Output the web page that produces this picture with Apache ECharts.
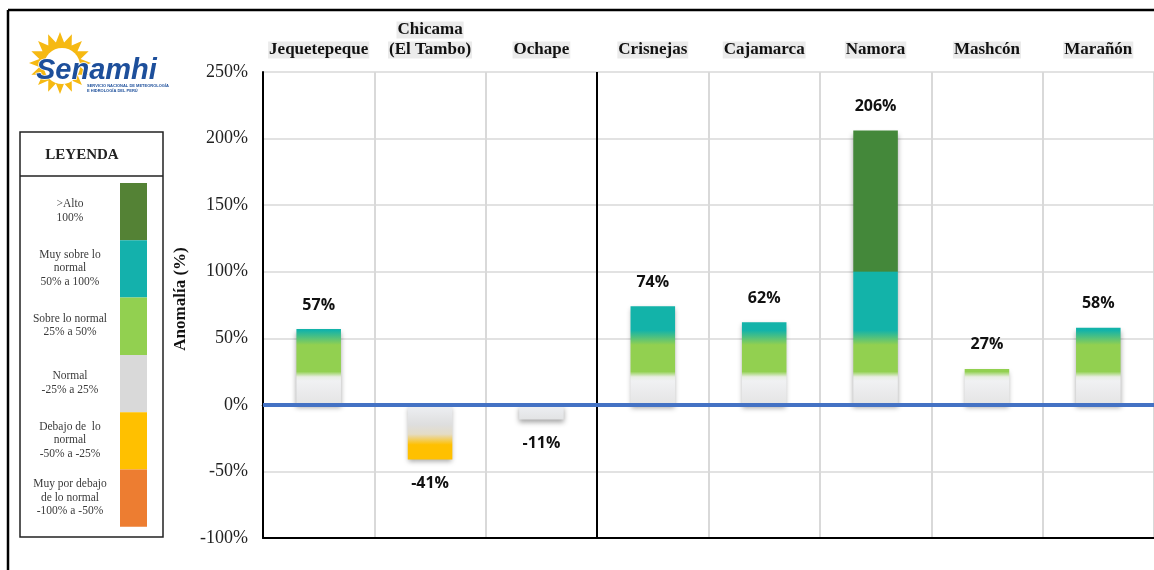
<!DOCTYPE html>
<html>
<head>
<meta charset="utf-8">
<script src="https://cdn.jsdelivr.net/npm/echarts@6/dist/echarts.min.js"></script>
<style>
  html, body { margin: 0; padding: 0; background: #fff; }
  #main { width: 1154px; height: 570px; }
</style>
</head>
<body>
<div id="main"></div>
<script>
// cuencas y anomalías (%)
var cuencas = ['Jequetepeque', 'Chicama\n(El Tambo)', 'Ochape', 'Crisnejas', 'Cajamarca', 'Namora', 'Mashcón', 'Marañón'];
var anomalias = [57, -41, -11, 74, 62, 206, 27, 58];

// leyenda
var leyendaTextos = ['>Alto\n100%', 'Muy sobre lo\nnormal\n50% a 100%', 'Sobre lo normal\n25% a 50%', 'Normal\n-25% a 25%', 'Debajo de  lo\nnormal\n-50% a -25%', 'Muy por debajo\nde lo normal\n-100% a -50%'];
var leyendaColores = ['#548235', '#14b1ac', '#92d050', '#d9d9d9', '#ffc000', '#ed7d31'];

// degradado de cada barra según el umbral alcanzado
var stopsPos = [[0, '#e4e4e4'], [18, '#f0f1f3'], [21, '#e9eee2'], [25, '#92d050'], [45, '#92d050'], [56, '#13b3a9'], [99.5, '#13b3a9'], [100.5, '#44883a'], [1000, '#44883a']];
var stopsNeg = [[0, '#eef0f4'], [15, '#dedede'], [22, '#e4dcc6'], [30, '#ffc000'], [50, '#ffc000'], [52, '#ed7d31'], [1000, '#ed7d31']];

function hex2rgb(h) {
    return [parseInt(h.substr(1, 2), 16), parseInt(h.substr(3, 2), 16), parseInt(h.substr(5, 2), 16)];
}
function mezcla(a, b, t) {
    var x = hex2rgb(a), y = hex2rgb(b);
    var r = [];
    for (var i = 0; i < 3; i++) r.push(Math.round(x[i] + (y[i] - x[i]) * t));
    return 'rgb(' + r.join(',') + ')';
}
function colorEn(stops, u) {
    for (var i = 1; i < stops.length; i++) {
        if (u <= stops[i][0]) {
            var t = (u - stops[i - 1][0]) / (stops[i][0] - stops[i - 1][0]);
            return mezcla(stops[i - 1][1], stops[i][1], t);
        }
    }
    return stops[stops.length - 1][1];
}
function degradado(v) {
    var a = Math.abs(v);
    var stops = v >= 0 ? stopsPos : stopsNeg;
    var cs = [];
    // offset 0 = arriba del rectángulo
    function off(u) { return v >= 0 ? 1 - u / a : u / a; }
    cs.push({ offset: off(0), color: colorEn(stops, 0) });
    for (var i = 1; i < stops.length; i++) {
        if (stops[i][0] < a) cs.push({ offset: off(stops[i][0]), color: stops[i][1] });
    }
    cs.push({ offset: off(a), color: colorEn(stops, a) });
    cs.sort(function (p, q) { return p.offset - q.offset; });
    return new echarts.graphic.LinearGradient(0, 0, 0, 1, cs);
}

var serif = '"Liberation Serif", "DejaVu Serif", serif';

var datos = [];
for (var i = 0; i < anomalias.length; i++) {
    datos.push({
        value: anomalias[i],
        itemStyle: { color: degradado(anomalias[i]) },
        label: { position: anomalias[i] >= 0 ? 'top' : 'bottom' }
    });
}

// líneas divisorias verticales (la 4ta separa las cuencas en negro)
var colDiv = ['#d9d9d9', '#d9d9d9', '#d9d9d9', '#000000', '#d9d9d9', '#d9d9d9', '#d9d9d9', '#d9d9d9', '#d9d9d9'];

// logo (sol)
var solPts = [];
var nRayos = 16;
for (var k = 0; k < nRayos * 2; k++) {
    var ang = Math.PI * k / nRayos - Math.PI / 2;
    var r = k % 2 === 0 ? 31 : 21;
    solPts.push([60 + r * Math.cos(ang), 63 + r * Math.sin(ang)]);
}

var graficos = [
    // marco
    { type: 'line', shape: { x1: 8, y1: 10, x2: 1154, y2: 10 }, style: { stroke: '#000', lineWidth: 2.5 } },
    { type: 'line', shape: { x1: 8, y1: 10, x2: 8, y2: 570 }, style: { stroke: '#000', lineWidth: 2.5 } },
    // logo
    { type: 'polygon', shape: { points: solPts }, style: { fill: '#f6b912' } },
    { type: 'circle', shape: { cx: 62, cy: 66, r: 18 }, style: { fill: '#fff' } },
    { type: 'text', x: 36, y: 56, style: { text: 'Senamhi', fill: '#1d4f9b', font: 'italic bold 29px "Liberation Sans", Arial, sans-serif', stroke: '#fff', lineWidth: 1.5 } },
    { type: 'text', x: 87, y: 83, style: { text: 'SERVICIO NACIONAL DE METEOROLOGÍA\nE HIDROLOGÍA DEL PERÚ', fill: '#1d4f9b', font: 'bold 4px "Liberation Sans", sans-serif', lineHeight: 5 } },
    // leyenda
    { type: 'rect', shape: { x: 20, y: 132, width: 143, height: 405 }, style: { fill: '#fff', stroke: '#222', lineWidth: 1.5 } },
    { type: 'line', shape: { x1: 20, y1: 176, x2: 163, y2: 176 }, style: { stroke: '#222', lineWidth: 1.5 } },
    { type: 'text', x: 82, y: 155, style: { text: 'LEYENDA', fill: '#222', font: 'bold 15px ' + serif, align: 'center', verticalAlign: 'middle' } }
];
for (var j = 0; j < leyendaColores.length; j++) {
    graficos.push({ type: 'rect', shape: { x: 120, y: 183 + j * 57.3, width: 27, height: 57.3 }, style: { fill: leyendaColores[j] } });
    graficos.push({ type: 'text', x: 70, y: 211 + j * 57.3, style: { text: leyendaTextos[j], fill: '#3a3a3a', font: '11.5px ' + serif, lineHeight: 13.5, align: 'center', verticalAlign: 'middle' } });
}

var myChart = echarts.init(document.getElementById('main'));
var option = {
    animation: false,
    backgroundColor: '#fff',
    grid: { left: 263, right: 0, top: 72, bottom: 32 },
    graphic: graficos,
    xAxis: [
        {
            type: 'category',
            position: 'top',
            data: cuencas,
            axisLine: { show: true, lineStyle: { color: '#000', width: 2.5 } },
            axisTick: { show: false },
            splitLine: { show: false },
            axisLabel: {
                interval: 0,
                margin: 12,
                formatter: function (v) {
                    return v.split('\n').map(function (s) { return '{a|' + s + '}'; }).join('\n');
                },
                rich: {
                    a: { fontFamily: serif, fontWeight: 'bold', fontSize: 17, color: '#111', backgroundColor: '#ebebeb', lineHeight: 20, padding: [0, 1] }
                }
            }
        },
        {
            type: 'category',
            position: 'bottom',
            data: cuencas,
            axisLine: { show: true, onZero: false, lineStyle: { color: '#000', width: 2 } },
            axisTick: { show: false },
            axisLabel: { show: false },
            splitLine: { show: true, lineStyle: { color: colDiv, width: 2 } }
        }
    ],
    yAxis: {
        type: 'value',
        min: -100,
        max: 250,
        interval: 50,
        name: 'Anomalía (%)',
        nameLocation: 'middle',
        nameGap: 66,
        nameTextStyle: { fontFamily: serif, fontWeight: 'bold', fontSize: 17, color: '#111', padding: [0, 0, 0, 12] },
        axisLine: { show: true, lineStyle: { color: '#000', width: 2 } },
        axisTick: { show: false },
        axisLabel: { formatter: '{value}%', margin: 15, fontFamily: serif, fontSize: 18, color: '#222' },
        splitLine: { lineStyle: { color: '#d9d9d9', width: 1.5 } }
    },
    series: [
        {
            type: 'bar',
            xAxisIndex: 0,
            barWidth: '40%',
            data: datos,
            itemStyle: {
                shadowColor: 'rgba(0,0,0,0.35)',
                shadowBlur: 5,
                shadowOffsetY: 3
            },
            label: {
                show: true,
                distance: 16,
                formatter: '{c}%',
                fontFamily: '"Open Sans", "Noto Sans", sans-serif',
                fontWeight: 'bold',
                fontSize: 16,
                color: '#111'
            },
            markLine: {
                silent: true,
                symbol: 'none',
                label: { show: false },
                lineStyle: { color: '#4472c4', width: 4, type: 'solid' },
                data: [{ yAxis: 0 }],
                z: 5
            }
        }
    ]
};
myChart.setOption(option);
</script>
</body>
</html>
